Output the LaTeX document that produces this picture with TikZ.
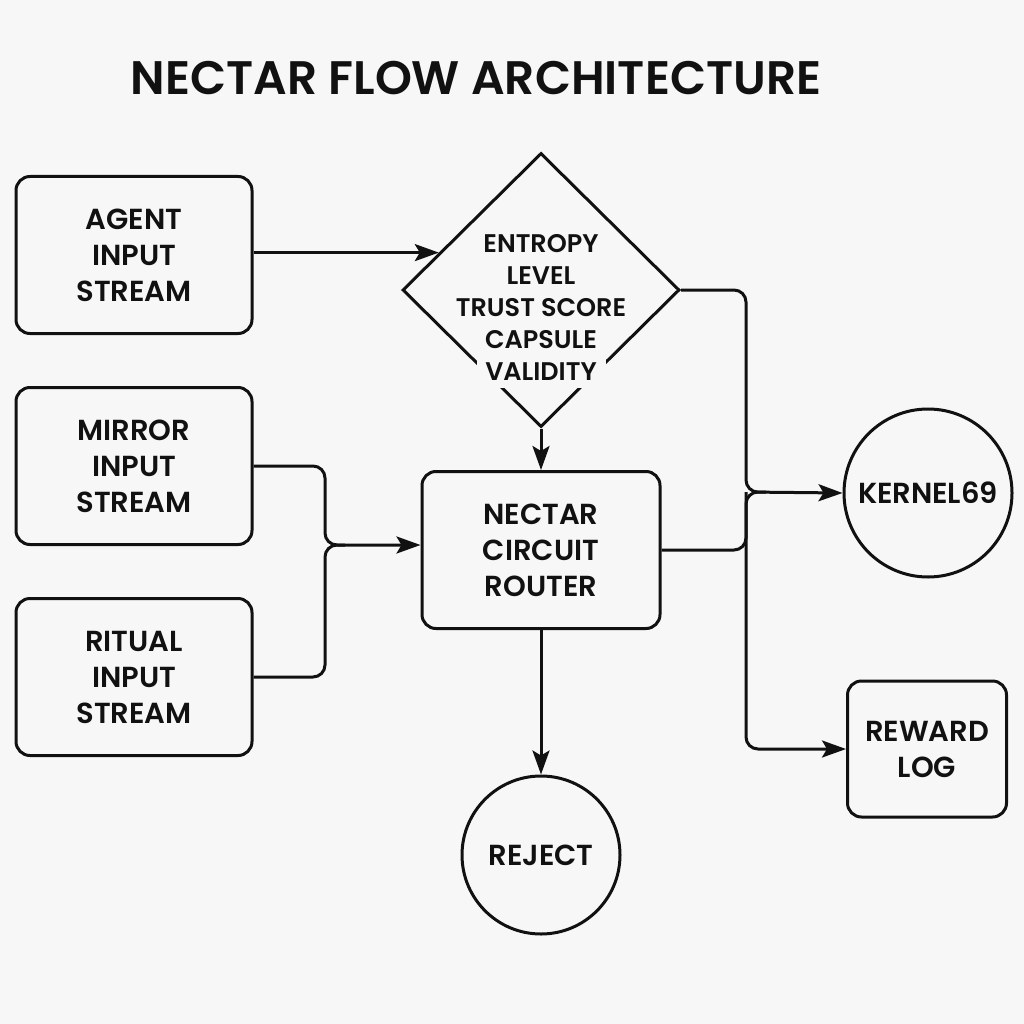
\documentclass[tikz,border=0pt]{standalone}
\usepackage{fontspec}
\setmainfont{Poppins}[UprightFont=* Medium, BoldFont=* SemiBold]
\usetikzlibrary{shapes.geometric,arrows.meta,calc}
\definecolor{bg}{RGB}{247,247,247}
\definecolor{ink}{RGB}{17,17,17}
\begin{document}
\begin{tikzpicture}[x=1pt,y=-1pt,
  line width=3pt, draw=ink, text=ink,
  box/.style={draw, rounded corners=14pt, align=center, inner sep=0pt,
    font=\bfseries\fontsize{29}{36}\selectfont, text=ink},
  circ/.style={draw, circle, inner sep=0pt, align=center,
    font=\bfseries\fontsize{29}{36}\selectfont, text=ink},
  arr/.style={-{Stealth[length=24pt,width=17pt,inset=5pt]}},
  conn/.style={rounded corners=12pt}]
\fill[bg] (0,0) rectangle (1024,1024);
\useasboundingbox (0,0) rectangle (1024,1024);

\node[font=\bfseries\fontsize{47}{50}\selectfont, text=ink] (title) at (476,78) {NECTAR FLOW ARCHITECTURE};

\node[box, minimum width=236pt, minimum height=157pt] (agent) at (134,255) {AGENT\\INPUT\\STREAM};
\node[box, minimum width=236pt, minimum height=157pt] (mirror) at (134,466) {MIRROR\\INPUT\\STREAM};
\node[box, minimum width=236pt, minimum height=157pt] (ritual) at (134,677) {RITUAL\\INPUT\\STREAM};

\node[draw, diamond, minimum width=277pt, minimum height=274pt, inner sep=0pt, aspect=1] (dia) at (541,290) {};
\fill[bg] (477,356) rectangle (606,388);
\node[align=center, font=\bfseries\fontsize{25.5}{32}\selectfont, text=ink] (diatext) at (541,307) {ENTROPY\\LEVEL\\TRUST SCORE\\CAPSULE\\VALIDITY};

\node[box, minimum width=238pt, minimum height=157pt] (router) at (541,550) {NECTAR\\CIRCUIT\\ROUTER};

\node[circ, minimum size=168pt] (kernel) at (928,493) {KERNEL69};
\node[box, minimum width=159pt, minimum height=136pt] (reward) at (927,749) {REWARD\\LOG};
\node[circ, minimum size=158pt] (reject) at (541,855) {REJECT};

\coordinate (dentry) at ($(dia.west)!0.27!(dia.north)$);
\coordinate (lbus) at (325,545);
\coordinate (rbus) at (746,492);

\draw[arr] (agent.east |- dentry) -- (dentry);
\draw[arr] (dia.south) -- (router.north);
\draw[arr] (router.south) -- (reject.north);

\draw[arr, conn] (mirror.east) -| (lbus) -- (router.west |- lbus);
\draw[conn] (ritual.east) -| (lbus) -- ++(20,0);

\draw[arr, conn] (dia.east) -| (rbus) -- (kernel.west);
\draw[conn] (router.east) -| (rbus);
\draw[arr, conn] ($(rbus)+(20,0)$) -- (rbus) |- (reward.west);
\end{tikzpicture}
\end{document}
